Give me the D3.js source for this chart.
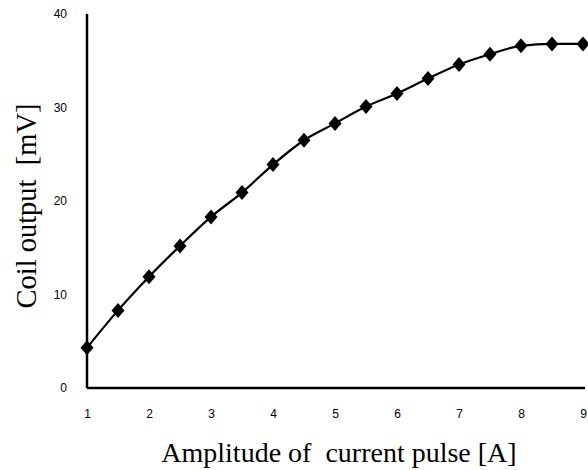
<!DOCTYPE html>
<html>
<head>
<meta charset="utf-8">
<script src="https://cdn.jsdelivr.net/npm/d3@7"></script>
<style>
  body { margin: 0; background: #fff; }
  .tick text { font-family: "Liberation Sans", Arial, sans-serif; font-size: 12px; fill: #000; }
</style>
</head>
<body>
<div id="chart"></div>
<script>
// amplitude of current pulse [A]
const amplitude = [1, 1.5, 2, 2.5, 3, 3.5, 4, 4.5, 5, 5.5, 6, 6.5, 7, 7.5, 8, 8.5, 9];
// coil output [mV]
const coil_output = [4.3, 8.3, 11.9, 15.2, 18.3, 20.9, 23.9, 26.5, 28.3, 30.1, 31.5, 33.1, 34.6, 35.7, 36.6, 36.8, 36.8];
const x_ticks = [1, 2, 3, 4, 5, 6, 7, 8, 9];
const y_ticks = [0, 10, 20, 30, 40];

const width = 588, height = 470;
const margin = {top: 14, right: 5, bottom: 82, left: 87};
const serif = "'Liberation Serif', 'Times New Roman', serif";

const svg = d3.select("#chart").append("svg")
    .attr("width", width)
    .attr("height", height);

const x = d3.scaleLinear().domain([1, 9]).range([margin.left, 583]);
const y = d3.scaleLinear().domain([0, 40]).range([height - margin.bottom, margin.top]);

/* осі */
const xAxis = svg.append("g")
    .attr("transform", "translate(0," + y(0) + ")")
    .call(d3.axisBottom(x).tickValues(x_ticks).tickSize(0).tickPadding(21).tickFormat(d3.format("d")));
xAxis.select(".domain").attr("d", "M" + x(1) + ",0H585").attr("stroke", "#000").attr("stroke-width", 2.5);

const yAxis = svg.append("g")
    .attr("transform", "translate(" + x(1) + ",0)")
    .call(d3.axisLeft(y).tickValues(y_ticks).tickSize(0).tickPadding(20).tickFormat(d3.format("d")));
yAxis.select(".domain").attr("d", "M0," + y(40) + "V" + y(0)).attr("stroke", "#000").attr("stroke-width", 2.5);

/* лінія */
const pts = amplitude.map(function(d, i) { return [d, coil_output[i]]; });

svg.append("path")
    .datum(pts)
    .attr("fill", "none")
    .attr("stroke", "#000")
    .attr("stroke-width", 2.2)
    .attr("d", d3.line()
        .x(function(d) { return x(d[0]); })
        .y(function(d) { return y(d[1]); })
        .curve(d3.curveMonotoneX));

/* маркери */
svg.selectAll(".marker")
    .data(pts)
    .enter().append("path")
    .attr("class", "marker")
    .attr("transform", function(d) { return "translate(" + x(d[0]) + "," + y(d[1]) + ")"; })
    .attr("d", "M0,-7.5L6.5,0L0,7.5L-6.5,0Z")
    .attr("fill", "#000");

/* підписи осей */
svg.append("text")
    .attr("x", 339)
    .attr("y", 462)
    .attr("text-anchor", "middle")
    .attr("font-family", serif)
    .attr("font-size", 28)
    .attr("xml:space", "preserve")
    .text("Amplitude of  current pulse [A]");

svg.append("text")
    .attr("transform", "translate(36,206) rotate(-90)")
    .attr("text-anchor", "middle")
    .attr("font-family", serif)
    .attr("font-size", 28.5)
    .attr("xml:space", "preserve")
    .text("Coil output  [mV]");
</script>
</body>
</html>
